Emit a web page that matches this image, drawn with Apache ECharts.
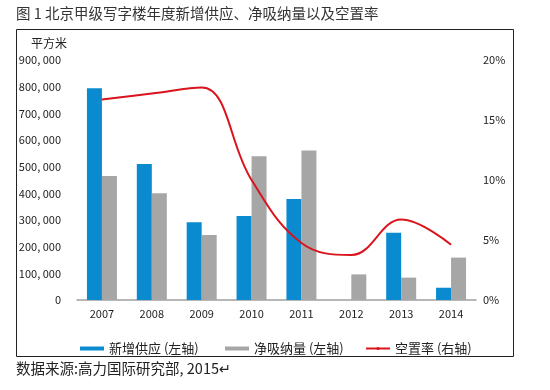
<!DOCTYPE html>
<html><head><meta charset="utf-8">
<script src="https://cdn.jsdelivr.net/npm/echarts@6/dist/echarts.min.js"></script>
<style>html,body{margin:0;padding:0;background:#fff}#c{width:550px;height:390px}</style>
</head><body><div id="c"></div>
<script>
const categories = ['2007','2008','2009','2010','2011','2012','2013','2014'];
const newSupply = [794000, 510000, 292000, 315000, 379000, 0, 252000, 46000];
const netAbsorption = [465000, 400000, 244000, 539000, 561000, 96000, 84000, 159000];
const vacancyRate = [0.167, 0.172, 0.177, 0.100, 0.0475, 0.0375, 0.067, 0.046];
const leftTicks = {min: 0, max: 900000, interval: 100000};
const rightTicks = {min: 0, max: 0.2, interval: 0.05};
const seriesNames = ['新增供应 (左轴)', '净吸纳量 (左轴)', '空置率 (右轴)'];

const FONT = '"Noto Sans CJK SC", "DejaVu Sans", sans-serif';
const chart = echarts.init(document.getElementById('c'), null, {renderer: 'canvas'});
function fmtNum(v){ if (v === 0) return '0'; const s = String(v); return s.slice(0, s.length-3) + ', ' + s.slice(-3); }
const legendCommon = {top: 337, itemWidth: 24, itemHeight: 4, textStyle: {fontFamily: FONT, fontSize: 13, color: '#222'}, selectedMode: false};
chart.setOption({
  animation: false,
  grid: {left: 77, right: 74, top: 60, bottom: 90},
  graphic: [
    {type: 'rect', shape: {x: 16.5, y: 29.5, width: 497, height: 327}, style: {fill: 'none', stroke: '#222', lineWidth: 1}, z: -1},
    {type: 'text', left: 16, top: 6, style: {text: '图 1 北京甲级写字楼年度新增供应、净吸纳量以及空置率', font: '14.5px ' + FONT, fill: '#333'}},
    {type: 'text', left: 31, top: 37, style: {text: '平方米', font: '12px ' + FONT, fill: '#222'}},
    {type: 'text', left: 16, top: 361, style: {text: '数据来源:高力国际研究部, 2015↵', font: '14.5px ' + FONT, fill: '#222'}}
  ],
  legend: [
    Object.assign({}, legendCommon, {left: 75, data: [{name: seriesNames[0], icon: 'rect'}]}),
    Object.assign({}, legendCommon, {left: 220, data: [{name: seriesNames[1], icon: 'rect'}]}),
    Object.assign({}, legendCommon, {left: 360, data: [{name: seriesNames[2]}]})
  ],
  xAxis: {
    type: 'category', data: categories,
    axisLine: {lineStyle: {color: '#a0a0a0', width: 1.5}},
    axisTick: {show: false},
    axisLabel: {fontFamily: FONT, fontSize: 11, color: '#222', margin: 8}
  },
  yAxis: [
    {type: 'value', min: leftTicks.min, max: leftTicks.max, interval: leftTicks.interval,
     axisLine: {show: false}, axisTick: {show: false}, splitLine: {show: false},
     axisLabel: {fontFamily: FONT, fontSize: 11, color: '#222', margin: 16, formatter: fmtNum}},
    {type: 'value', min: rightTicks.min, max: rightTicks.max, interval: rightTicks.interval,
     axisLine: {show: false}, axisTick: {show: false}, splitLine: {show: false},
     axisLabel: {fontFamily: FONT, fontSize: 11, color: '#222', margin: 7, formatter: v => Math.round(v*100) + '%'}}
  ],
  series: [
    {name: seriesNames[0], type: 'bar', data: newSupply, barWidth: 15, barGap: '0%', itemStyle: {color: '#0a8bcf'}},
    {name: seriesNames[1], type: 'bar', data: netAbsorption, barWidth: 15, barGap: '0%', itemStyle: {color: '#a6a6a6'}},
    {name: seriesNames[2], type: 'line', yAxisIndex: 1, data: vacancyRate, smooth: 0.4, symbol: 'none',
     lineStyle: {color: '#d9141c', width: 2}, itemStyle: {color: '#d9141c'}}
  ]
});
</script></body></html>
